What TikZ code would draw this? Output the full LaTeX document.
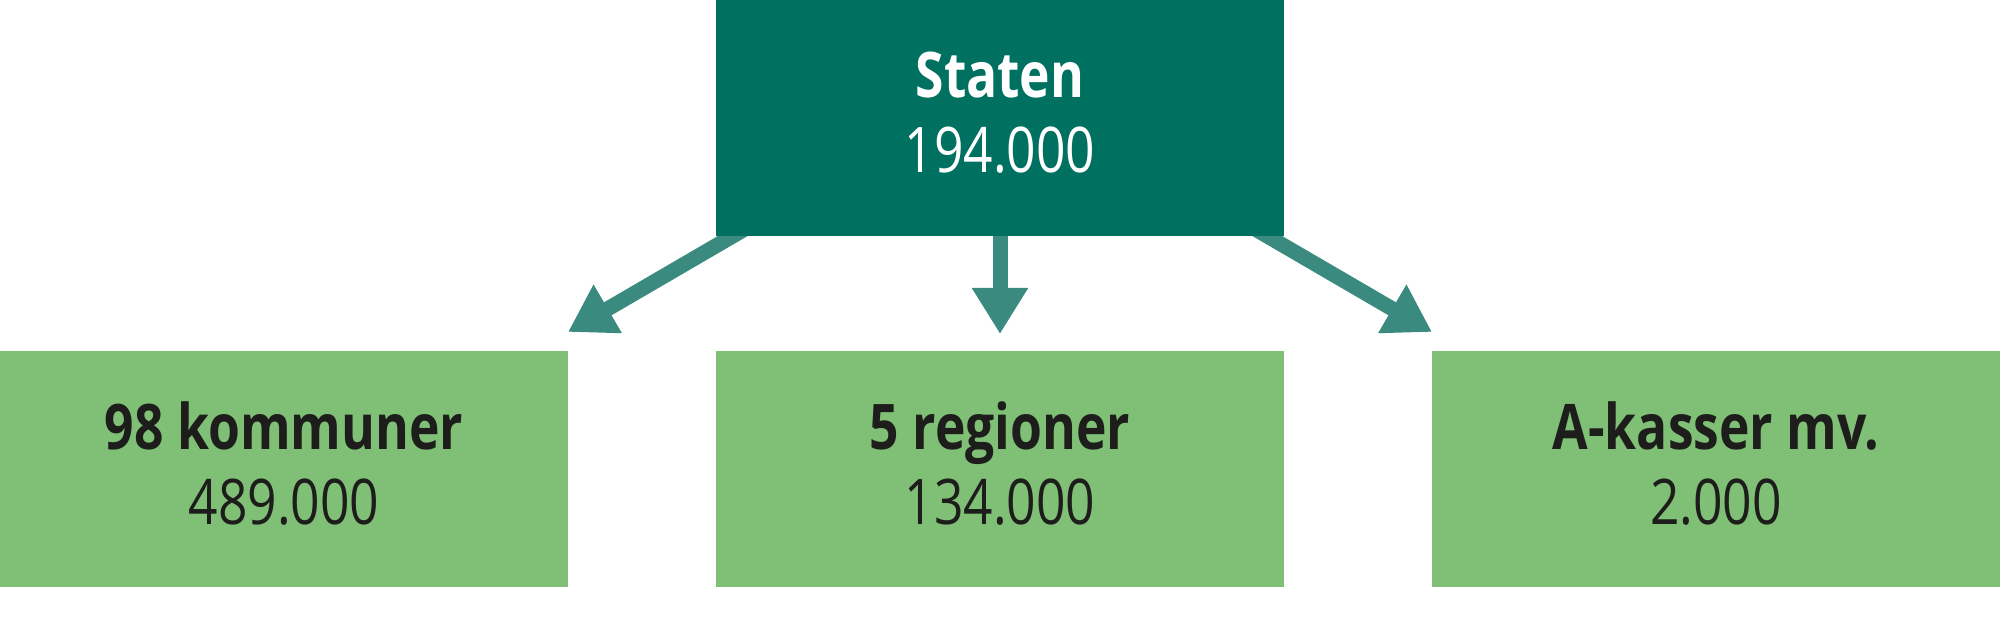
\documentclass[tikz,border=0pt]{standalone}
\usepackage{fontspec}
\setmainfont{Open Sans}[FakeStretch=0.82]
\usetikzlibrary{positioning,arrows.meta,backgrounds}

\definecolor{statgreen}{RGB}{0,112,96}
\definecolor{boxgreen}{RGB}{128,192,118}
\definecolor{pilgreen}{RGB}{58,138,127}
\definecolor{textdark}{RGB}{29,29,27}

% Two-line box text, lifted a little
\newcommand{\tolinjer}[2]{\textbf{#1}\\#2\rule[-1.2mm]{0pt}{0pt}}

\begin{document}
\begin{tikzpicture}[x=0.1mm,y=0.1mm,
  node distance=11.5mm and 14.8mm,
  boks/.style={minimum width=56.8mm, minimum height=23.6mm, inner sep=0pt, outer sep=0pt,
    align=center, font=\fontsize{17.9}{21.3}\selectfont},
  topboks/.style={boks, fill=statgreen, text=white},
  bundboks/.style={boks, fill=boxgreen, text=textdark},
  pil/.style={draw=pilgreen, line width=1.5mm, -{Triangle[length=4.6mm, width=5.3mm]}}]

% Fix the frame
\useasboundingbox (0,0) rectangle (2000,627);

% Top box
\node[topboks] (staten) at (1000,509) {\tolinjer{Staten}{194.000}};

% Bottom boxes
\node[bundboks, below=of staten] (regioner) {\tolinjer{5 regioner}{134.000}};
\node[bundboks, left=of regioner] (kommuner) {\tolinjer{98 kommuner}{489.000}};
\node[bundboks, right=of regioner] (akasser) {\tolinjer{A-kasser mv.}{2.000}};

% Arrows, behind the top box
\begin{scope}[on background layer]
\draw[pil] ([xshift=3.4mm,yshift=1mm]staten.south west) -- ([yshift=1.9mm]kommuner.north east);
\draw[pil] ([yshift=1mm]staten.south) -- ([yshift=1.7mm]regioner.north);
\draw[pil] ([xshift=-3.4mm,yshift=1mm]staten.south east) -- ([yshift=1.9mm]akasser.north west);
\end{scope}

\end{tikzpicture}
\end{document}
